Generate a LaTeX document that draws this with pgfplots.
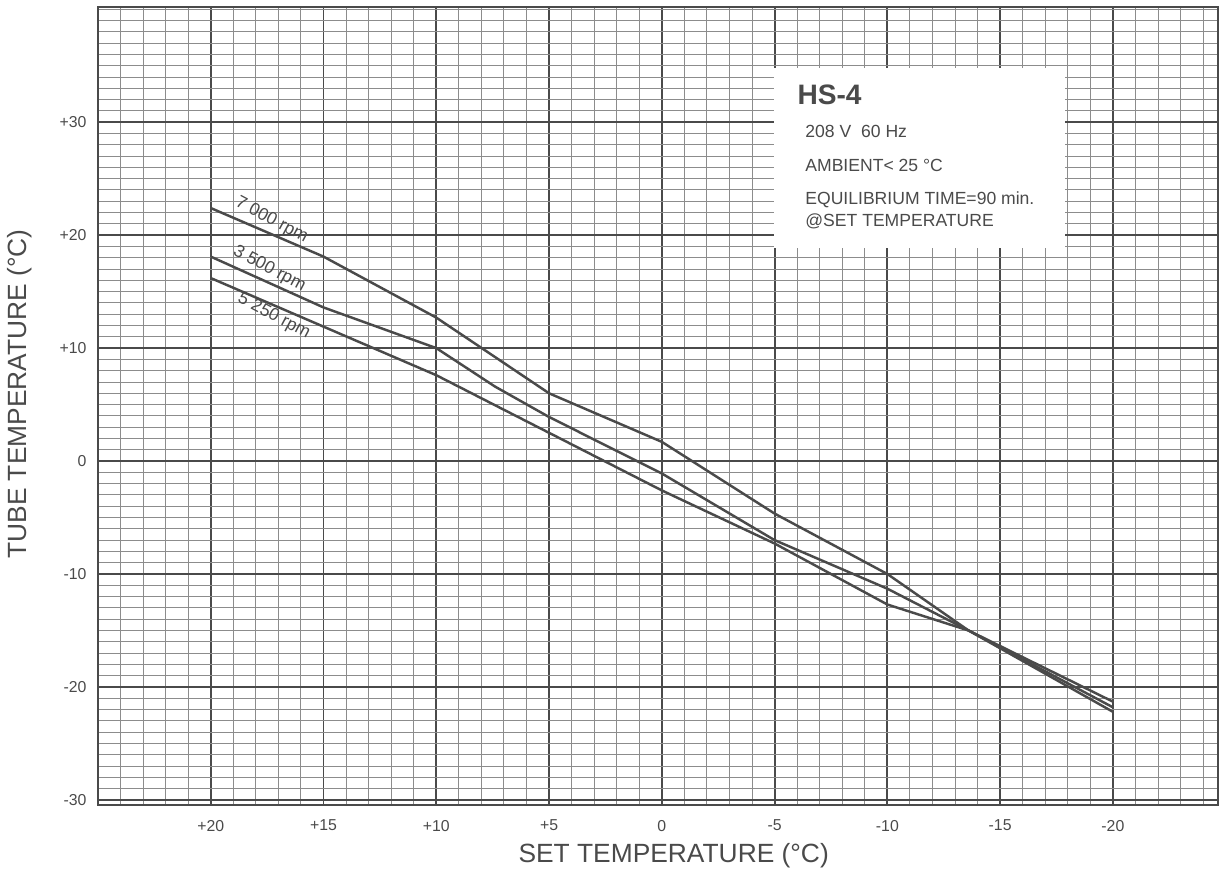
\documentclass[border=0pt]{standalone}
\usepackage{fontspec}
\setmainfont{Liberation Sans}
\usepackage{pgfplots}
\pgfplotsset{compat=1.18}
\definecolor{ink}{HTML}{4A4A4A}
\definecolor{gridc}{HTML}{8C8C8C}
\begin{document}
\begin{tikzpicture}
\path[use as bounding box] (0,0) rectangle (24.4cm,17.4cm);
\begin{axis}[
  at={(1.96cm,1.30cm)}, anchor=south west,
  scale only axis, width=22.4cm, height=15.96cm,
  x dir=reverse,
  xmin=-24.66, xmax=25, ymin=-30.45, ymax=40.2,
  xtick={-20,-15,...,20},
  xticklabels={-20,-15,-10,-5,0,+5,+10,+15,+20},
  ytick={-30,-20,...,30},
  yticklabels={-30,-20,-10,0,+10,+20,+30},
  minor xtick={-24,...,24},
  minor ytick={-30,...,40},
  grid=both,
  major tick length=0pt, minor tick length=0pt,
  minor grid style={gridc, line width=0.55pt},
  major grid style={ink, line width=1.1pt},
  axis line style={ink, line width=1.3pt},
  xticklabel style={font=\fontsize{9}{10}\selectfont, text=ink, yshift=-5pt},
  yticklabel style={font=\fontsize{9}{10}\selectfont, text=ink, xshift=-3pt},
  xlabel={SET TEMPERATURE (°C)},
  ylabel={TUBE TEMPERATURE (°C)},
  xlabel style={at={(axis description cs:0.514,-0.0639)}, anchor=center, font=\fontsize{15}{16}\selectfont, text=ink},
  ylabel style={at={(axis description cs:-0.0696,0.515)}, anchor=center, font=\fontsize{15}{16}\selectfont, text=ink},
  clip=true,
]
\fill[white] (axis cs:-4.97,18.85) rectangle (axis cs:-17.87,34.8);
\node[anchor=west, inner sep=0pt, text=ink, font=\bfseries\fontsize{16}{17}\selectfont] at (axis cs:-6.0,32.4) {HS-4};
\node[anchor=west, inner sep=0pt, text=ink, font=\fontsize{10}{11}\selectfont] at (axis cs:-6.35,29.2) {208 V\ \ 60 Hz};
\node[anchor=west, inner sep=0pt, text=ink, font=\fontsize{10}{11}\selectfont] at (axis cs:-6.35,26.2) {AMBIENT< 25 °C};
\node[anchor=west, inner sep=0pt, text=ink, font=\fontsize{10}{11}\selectfont] at (axis cs:-6.35,23.1) {EQUILIBRIUM TIME=90 min.};
\node[anchor=west, inner sep=0pt, text=ink, font=\fontsize{10}{11}\selectfont] at (axis cs:-6.35,21.2) {@SET TEMPERATURE};

\addplot[ink, line width=1.4pt] coordinates {(20,22.4) (15,18.1) (10,12.7) (5,6.0) (0,1.7) (-5,-4.65) (-10,-10.0) (-13.6,-15.0) (-20,-22.2)};
\addplot[ink, line width=1.4pt] coordinates {(20,18.1) (15,13.6) (10,10.0) (7.4,6.6) (5,3.9) (0,-1.1) (-5,-7.0) (-10,-11.3) (-13.6,-15.0) (-20,-21.8)};
\addplot[ink, line width=1.4pt] coordinates {(20,16.2) (15,11.9) (10,7.6) (5,2.5) (0,-2.6) (-5,-7.3) (-10,-12.7) (-13.6,-15.0) (-20,-21.3)};

\node[rotate=-28, inner sep=0pt, text=ink, font=\fontsize{10}{11}\selectfont] at (axis cs:17.3,21.3) {7 000 rpm};
\node[rotate=-28, inner sep=0pt, text=ink, font=\fontsize{10}{11}\selectfont] at (axis cs:17.4,17.0) {3 500 rpm};
\node[rotate=-28, inner sep=0pt, text=ink, font=\fontsize{10}{11}\selectfont] at (axis cs:17.2,12.8) {5 250 rpm};
\end{axis}
\end{tikzpicture}
\end{document}
